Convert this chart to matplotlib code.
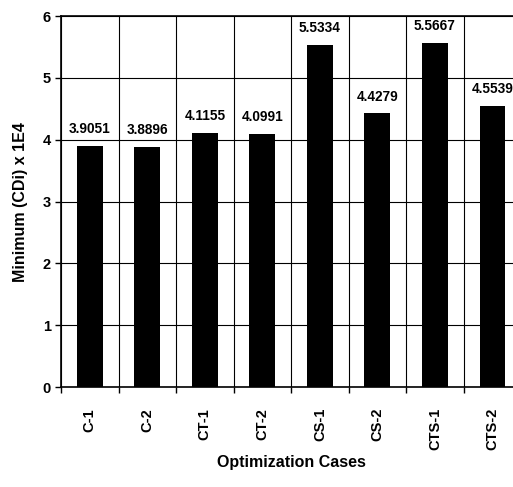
import matplotlib
matplotlib.use('Agg')
import matplotlib.pyplot as plt
import numpy as np

cases = ['C-1', 'C-2', 'CT-1', 'CT-2', 'CS-1', 'CS-2', 'CTS-1', 'CTS-2']
min_cdi = [3.9051, 3.8896, 4.1155, 4.0991, 5.5334, 4.4279, 5.5667, 4.5539]
value_labels = ['3.9051', '3.8896', '4.1155', '4.0991', '5.5334', '4.4279', '5.5667', '4.5539']

plt.rcParams['font.family'] = ['Liberation Sans', 'DejaVu Sans']

fig = plt.figure(figsize=(5.13, 4.87), dpi=100)
ax = fig.add_axes([0.119, 0.205, 0.897, 0.762])

x = np.arange(len(cases))
ax.bar(x, min_cdi, width=0.45, color='black', zorder=3)

for xi, v, lab in zip(x, min_cdi, value_labels):
    ax.annotate(lab, (xi, v), xytext=(0, 7), textcoords='offset points',
                ha='center', va='bottom', fontsize=9.8, fontweight='bold')

ax.set_xlim(-0.5, len(cases) - 0.5)
ax.set_ylim(0, 6)
ax.set_yticks(range(0, 7))
ax.set_yticklabels([str(i) for i in range(0, 7)], fontsize=10.5, fontweight='bold')

# grid lines sit on category boundaries
ax.set_xticks(np.arange(-0.5, len(cases), 1.0))
ax.set_xticklabels([])
ax.set_xticks(x, minor=True)
ax.set_xticklabels(cases, minor=True, rotation=90, fontsize=10.5, fontweight='bold')
ax.tick_params(axis='x', which='minor', length=0, pad=15)
ax.tick_params(axis='x', which='major', length=4, width=1, direction='out')
ax.tick_params(axis='y', length=4, width=1, direction='out')
ax.grid(True, which='major', color='black', linewidth=0.8, zorder=0)

for s in ax.spines.values():
    s.set_linewidth(1.2)

ax.set_ylabel('Minimum (CDi) x 1E4', fontsize=11.5, fontweight='bold', labelpad=10)
ax.set_xlabel('Optimization Cases', fontsize=11.5, fontweight='bold', labelpad=3)

fig.savefig('out.png', dpi=100)
